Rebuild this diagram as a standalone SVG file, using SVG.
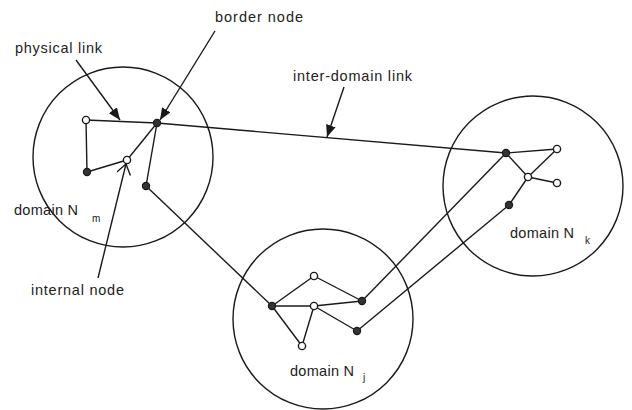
<svg xmlns="http://www.w3.org/2000/svg" width="632" height="410" viewBox="0 0 632 410">
<style>
.dom{fill:none;stroke:#1a1a1a;stroke-width:1.4}
.e{stroke:#1a1a1a;stroke-width:1.4;fill:none}
.o{fill:#fff;stroke:#1a1a1a;stroke-width:1.4}
.f{fill:#333;stroke:#1a1a1a;stroke-width:1.2}
.lbl{font-family:"Liberation Sans",Arial,sans-serif;font-size:14.5px;fill:#222}
.sub{font-family:"Liberation Sans",Arial,sans-serif;font-size:10px;fill:#222}
.lead{stroke:#1a1a1a;stroke-width:1.4;fill:none}
</style>
<defs>
<marker id="ah" markerUnits="userSpaceOnUse" markerWidth="14" markerHeight="12" refX="12" refY="5" orient="auto">
<path d="M0,0 L12,5 L0,10 Z" fill="#1a1a1a"/>
</marker>
<marker id="av" markerUnits="userSpaceOnUse" markerWidth="14" markerHeight="16" refX="11" refY="7" orient="auto">
<path d="M1,0 L11,7 L1,14" fill="none" stroke="#1a1a1a" stroke-width="1.4"/>
</marker>
</defs>
<g id="domain-m">
<circle class="dom" cx="123" cy="157" r="90"/>
<text class="lbl" x="14" y="215" textLength="64">domain N</text>
<text class="sub" x="92" y="222">m</text>
</g>
<g id="domain-k">
<circle class="dom" cx="533" cy="186" r="90"/>
<text class="lbl" x="510" y="238" textLength="64">domain N</text>
<text class="sub" x="585" y="244">k</text>
</g>
<g id="domain-j">
<circle class="dom" cx="323" cy="319" r="90"/>
<text class="lbl" x="290" y="376" textLength="64">domain N</text>
<text class="sub" x="363" y="381">j</text>
</g>
<g id="connectors">
<line class="e" x1="86" y1="120" x2="157" y2="123"/>
<line class="e" x1="86" y1="120" x2="87" y2="172"/>
<line class="e" x1="87" y1="172" x2="127" y2="160"/>
<line class="e" x1="127" y1="160" x2="157" y2="123"/>
<line class="e" x1="157" y1="123" x2="146" y2="186"/>
<line class="e" x1="157" y1="123" x2="506" y2="153"/>
<line class="e" x1="146" y1="186" x2="272" y2="306"/>
<line class="e" x1="506" y1="153" x2="557" y2="149"/>
<line class="e" x1="506" y1="153" x2="528" y2="177"/>
<line class="e" x1="528" y1="177" x2="557" y2="149"/>
<line class="e" x1="528" y1="177" x2="557" y2="183"/>
<line class="e" x1="528" y1="177" x2="509" y2="205"/>
<line class="e" x1="506" y1="153" x2="362" y2="301"/>
<line class="e" x1="509" y1="205" x2="357" y2="331"/>
<line class="e" x1="272" y1="306" x2="314" y2="276"/>
<line class="e" x1="314" y1="276" x2="362" y2="301"/>
<line class="e" x1="272" y1="306" x2="314" y2="306"/>
<line class="e" x1="314" y1="306" x2="362" y2="301"/>
<line class="e" x1="314" y1="306" x2="357" y2="331"/>
<line class="e" x1="272" y1="306" x2="302" y2="346"/>
<line class="e" x1="302" y1="346" x2="314" y2="306"/>
</g>
<g id="nodes-m">
<circle class="o" cx="86" cy="120" r="3.6"/>
<circle class="f" cx="157" cy="123" r="3.6"/>
<circle class="o" cx="127" cy="160" r="3.6"/>
<circle class="f" cx="87" cy="172" r="3.6"/>
<circle class="f" cx="146" cy="186" r="3.6"/>
</g>
<g id="nodes-k">
<circle class="f" cx="506" cy="153" r="3.6"/>
<circle class="o" cx="557" cy="149" r="3.6"/>
<circle class="o" cx="528" cy="177" r="3.6"/>
<circle class="o" cx="557" cy="183" r="3.6"/>
<circle class="f" cx="509" cy="205" r="3.6"/>
</g>
<g id="nodes-j">
<circle class="f" cx="272" cy="306" r="3.6"/>
<circle class="o" cx="314" cy="276" r="3.6"/>
<circle class="o" cx="314" cy="306" r="3.6"/>
<circle class="f" cx="362" cy="301" r="3.6"/>
<circle class="f" cx="357" cy="331" r="3.6"/>
<circle class="o" cx="302" cy="346" r="3.6"/>
</g>
<g id="label-physical-link">
<text class="lbl" x="15" y="53" textLength="87">physical link</text>
<line class="lead" x1="76" y1="60" x2="120" y2="120" marker-end="url(#ah)"/>
</g>
<g id="label-border-node">
<text class="lbl" x="215" y="22" textLength="88">border node</text>
<line class="lead" x1="215" y1="31" x2="160" y2="120" marker-end="url(#ah)"/>
</g>
<g id="label-inter-domain-link">
<text class="lbl" x="293" y="81" textLength="119">inter-domain link</text>
<line class="lead" x1="344" y1="87" x2="327" y2="137" marker-end="url(#ah)"/>
</g>
<g id="label-internal-node">
<text class="lbl" x="31" y="295" textLength="93">internal node</text>
<line class="lead" x1="98" y1="278" x2="126" y2="164" marker-end="url(#av)"/>
</g>
</svg>
